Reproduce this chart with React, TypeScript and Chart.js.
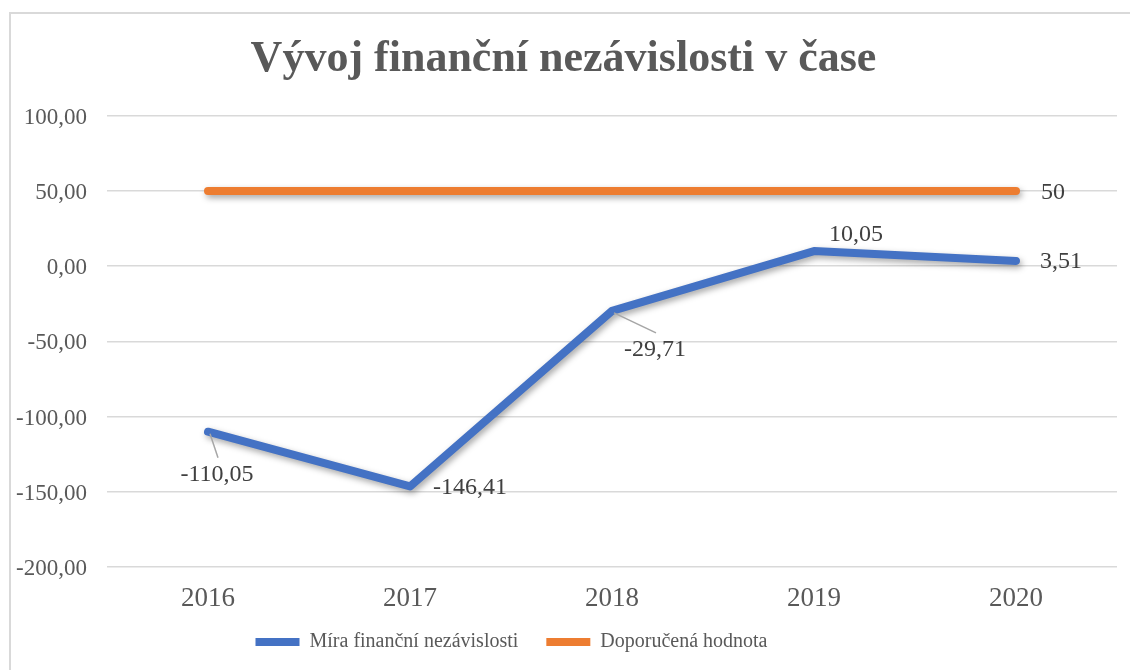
import React, { useEffect, useRef } from "react";
import { Chart, registerables } from "chart.js";

Chart.register(...registerables);

const categories = ["2016", "2017", "2018", "2019", "2020"];
const miraValues = [-110.05, -146.41, -29.71, 10.05, 3.51];
const doporucenaValues = [50, 50, 50, 50, 50];
const seriesNames = ["Míra finanční nezávislosti", "Doporučená hodnota"];
const chartTitle = "Vývoj finanční nezávislosti v čase";
const yMin = -200;
const yMax = 100;
const yStep = 50;

// label placement (pixel offsets from the point) and leader lines
const miraLabelOffsets = [
  { dx: 9, dy: 43, leader: true },
  { dx: 60, dy: 1, leader: false },
  { dx: 43, dy: 39, leader: true },
  { dx: 42, dy: -16, leader: false },
  { dx: 45, dy: 1, leader: false },
];
const dopLabelOffsets = [null, null, null, null, { dx: 37, dy: 2, leader: false }];

const SERIF = "'Liberation Serif', 'Times New Roman', serif";

const fmtComma = (v: number) => v.toFixed(2).replace(".", ",");

const shadowPlugin = {
  id: "lineShadow",
  beforeDatasetDraw(chart: any) {
    const ctx = chart.ctx;
    ctx.save();
    ctx.shadowColor = "rgba(0,0,0,0.35)";
    ctx.shadowBlur = 6;
    ctx.shadowOffsetX = 2;
    ctx.shadowOffsetY = 3;
  },
  afterDatasetDraw(chart: any) {
    chart.ctx.restore();
  },
};

const legendShiftPlugin = {
  id: "legendShift",
  afterLayout(chart: any) {
    const lg = chart.legend;
    if (lg) {
      lg.left -= 52;
      lg.right -= 52;
      lg.top -= 8;
      lg.bottom -= 8;
    }
  },
};

const labelsPlugin = {
  id: "dataLabels",
  afterDatasetsDraw(chart: any) {
    const ctx = chart.ctx;
    const configs = [
      { offsets: miraLabelOffsets, fmt: (v: number) => fmtComma(v) },
      { offsets: dopLabelOffsets, fmt: (v: number) => String(v) },
    ];
    chart.data.datasets.forEach((ds: any, di: number) => {
      const meta = chart.getDatasetMeta(di);
      const cfg = configs[di];
      meta.data.forEach((pt: any, i: number) => {
        const off = cfg.offsets[i];
        if (!off) return;
        const x = pt.x + off.dx;
        const y = pt.y + off.dy;
        ctx.save();
        if (off.leader) {
          ctx.strokeStyle = "#a6a6a6";
          ctx.lineWidth = 1.5;
          ctx.beginPath();
          ctx.moveTo(pt.x + 2, pt.y + 2);
          ctx.lineTo(x + 1, y - 17);
          ctx.stroke();
        }
        ctx.font = `24px ${SERIF}`;
        ctx.fillStyle = "#404040";
        ctx.textAlign = "center";
        ctx.textBaseline = "middle";
        ctx.fillText(cfg.fmt(ds.data[i]), x, y);
        ctx.restore();
      });
    });
  },
};

export default function App() {
  const canvasRef = useRef<HTMLCanvasElement | null>(null);

  useEffect(() => {
    const canvas = canvasRef.current;
    if (!canvas) return;
    const chart = new Chart(canvas, {
      type: "line",
      data: {
        labels: categories,
        datasets: [
          {
            label: seriesNames[0],
            data: miraValues,
            borderColor: "#4472C4",
            backgroundColor: "#4472C4",
            borderWidth: 8,
            borderCapStyle: "round",
            borderJoinStyle: "round",
            pointRadius: 0,
            tension: 0,
          },
          {
            label: seriesNames[1],
            data: doporucenaValues,
            borderColor: "#ED7D31",
            backgroundColor: "#ED7D31",
            borderWidth: 8,
            borderCapStyle: "round",
            borderJoinStyle: "round",
            pointRadius: 0,
            tension: 0,
          },
        ],
      },
      options: {
        responsive: false,
        animation: false,
        devicePixelRatio: 1,
        layout: { padding: { left: 10, right: 13, top: 12, bottom: 0 } },
        plugins: {
          title: {
            display: true,
            text: chartTitle,
            color: "#595959",
            font: { family: SERIF, size: 44, weight: "bold" },
            padding: { top: 21, bottom: 30 },
          },
          legend: {
            position: "bottom",
            labels: {
              usePointStyle: true,
              pointStyle: "line",
              pointStyleWidth: 44,
              padding: 28,
              color: "#595959",
              font: { family: SERIF, size: 20 },
            },
          },
          tooltip: { enabled: false },
        },
        scales: {
          x: {
            offset: true,
            grid: { display: false, drawTicks: false },
            border: { display: false },
            ticks: {
              color: "#595959",
              font: { family: SERIF, size: 27, lineHeight: 1 },
              padding: 18,
            },
            afterFit(scale: any) {
              scale.height = 45;
            },
          },
          y: {
            min: yMin,
            max: yMax,
            grid: { color: "#d9d9d9", lineWidth: 1.5, drawTicks: false },
            border: { display: false },
            ticks: {
              stepSize: yStep,
              color: "#595959",
              font: { family: SERIF, size: 23 },
              padding: 20,
              labelOffset: 2,
              callback: (v: any) => fmtComma(Number(v)),
            },
            afterFit(scale: any) {
              scale.width = 97;
            },
          },
        },
      },
      plugins: [shadowPlugin, labelsPlugin, legendShiftPlugin],
    });
    return () => chart.destroy();
  }, []);

  return (
    <div style={{ position: "absolute", left: 0, top: 0, width: 1130, height: 670, background: "#fff", overflow: "hidden" }}>
      <div
        style={{
          position: "absolute",
          left: 9,
          top: 12,
          width: 1140,
          height: 680,
          border: "2px solid #d9d9d9",
          boxSizing: "border-box",
        }}
      />
      <canvas ref={canvasRef} width={1130} height={670} style={{ position: "absolute", left: 0, top: 0 }} />
    </div>
  );
}
